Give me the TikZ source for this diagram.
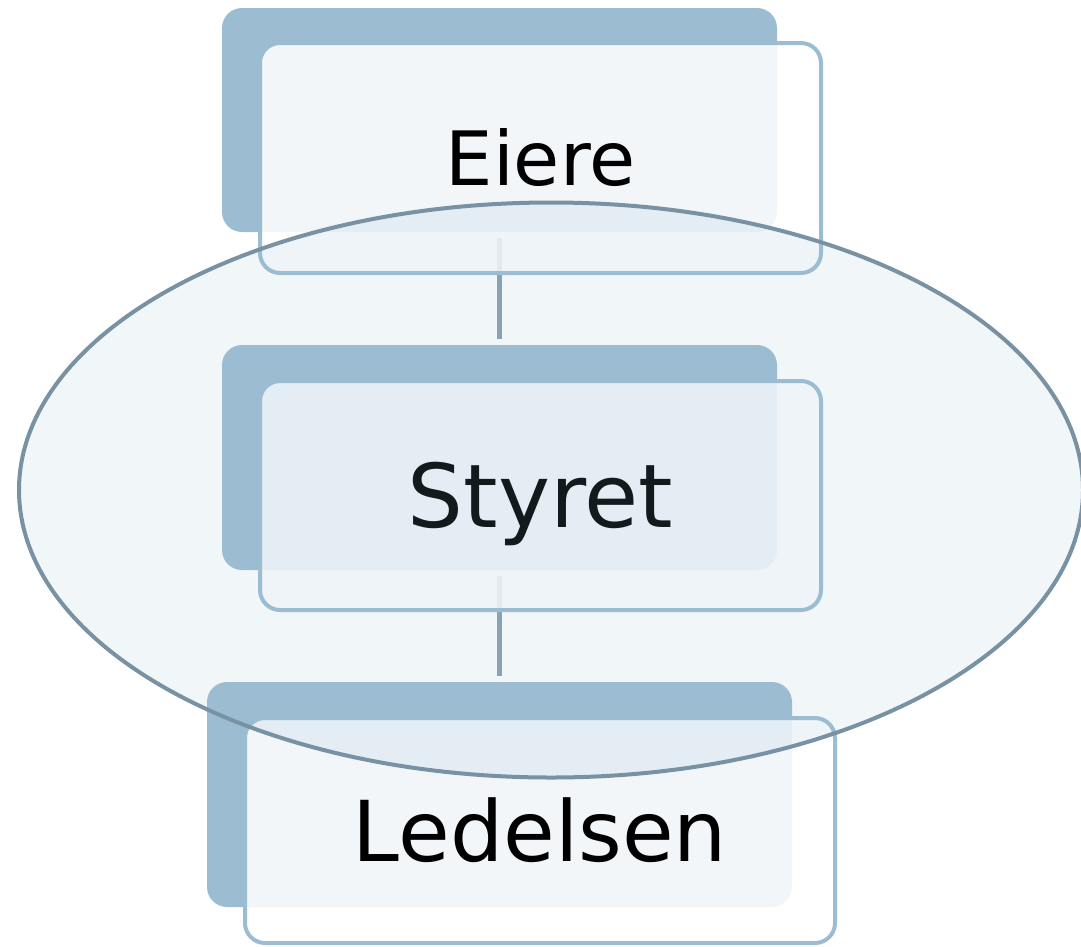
\documentclass[tikz,border=0pt]{standalone}
\usepackage{fontspec}
\setmainfont{DejaVu Sans}
\usetikzlibrary{shapes.geometric}
\definecolor{backblue}{HTML}{9CBDD1}
\definecolor{frontline}{HTML}{9CBDD1}
\definecolor{ellfill}{HTML}{F1F6F9}
\definecolor{ellline}{HTML}{7892A4}
\definecolor{connc}{HTML}{87A3B5}
\definecolor{styretc}{HTML}{141B1E}
\begin{document}
\begin{tikzpicture}[x=1pt,y=-1pt,
 backbox/.style={rectangle, rounded corners=20pt, fill=backblue, draw=none, inner sep=0pt, outer sep=0pt},
 frontbox/.style={rectangle, rounded corners=20pt, draw=frontline, line width=4pt, fill=white, fill opacity=0.88, text opacity=1, draw opacity=1, inner sep=0pt, outer sep=0pt, text depth=0pt, align=center},
 conn/.style={draw=connc, line width=5pt, shorten <=6pt, shorten >=6.5pt},
 ellout/.style={draw=ellline, line width=4pt},
]
\useasboundingbox (0,0) rectangle (1081,946);
% group ellipse fill
\fill[ellfill] (551,490) ellipse [x radius=532, y radius=287.5];
% back plates
\node[backbox, minimum width=555pt, minimum height=224pt] (eback) at (499.5,120) {};
\node[backbox, minimum width=555pt, minimum height=225pt] (sback) at (499.5,457.5) {};
\node[backbox, minimum width=585pt, minimum height=225pt] (lback) at (499.5,794.5) {};
% connectors
\draw[conn] (eback.south) -- (sback.north);
\draw[conn] (sback.south) -- (lback.north);
% front boxes
\node[frontbox, minimum width=561pt, minimum height=230pt, font=\fontsize{75}{90}\selectfont, text height=54.7pt] (efront) at (540.5,158) {Eiere};
\node[frontbox, minimum width=561pt, minimum height=229pt, font=\fontsize{88}{105}\selectfont, text height=64.2pt, text=styretc] (sfront) at (540.5,495.5) {Styret};
\node[frontbox, minimum width=590pt, minimum height=225pt, font=\fontsize{84}{100}\selectfont, text height=61.2pt] (lfront) at (540,830.5) {Ledelsen};
% group tint over the inside of the front boxes
\begin{scope}
\clip[rounded corners=18pt]
 ([xshift=2pt,yshift=2pt]efront.south west) rectangle ([xshift=-2pt,yshift=-2pt]efront.north east)
 ([xshift=2pt,yshift=2pt]sfront.south west) rectangle ([xshift=-2pt,yshift=-2pt]sfront.north east)
 ([xshift=2pt,yshift=2pt]lfront.south west) rectangle ([xshift=-2pt,yshift=-2pt]lfront.north east);
\fill[ellfill, blend mode=multiply] (551,490) ellipse [x radius=532, y radius=287.5];
\end{scope}
% group ellipse outline
\draw[ellout] (551,490) ellipse [x radius=532, y radius=287.5];
\end{tikzpicture}
\end{document}
